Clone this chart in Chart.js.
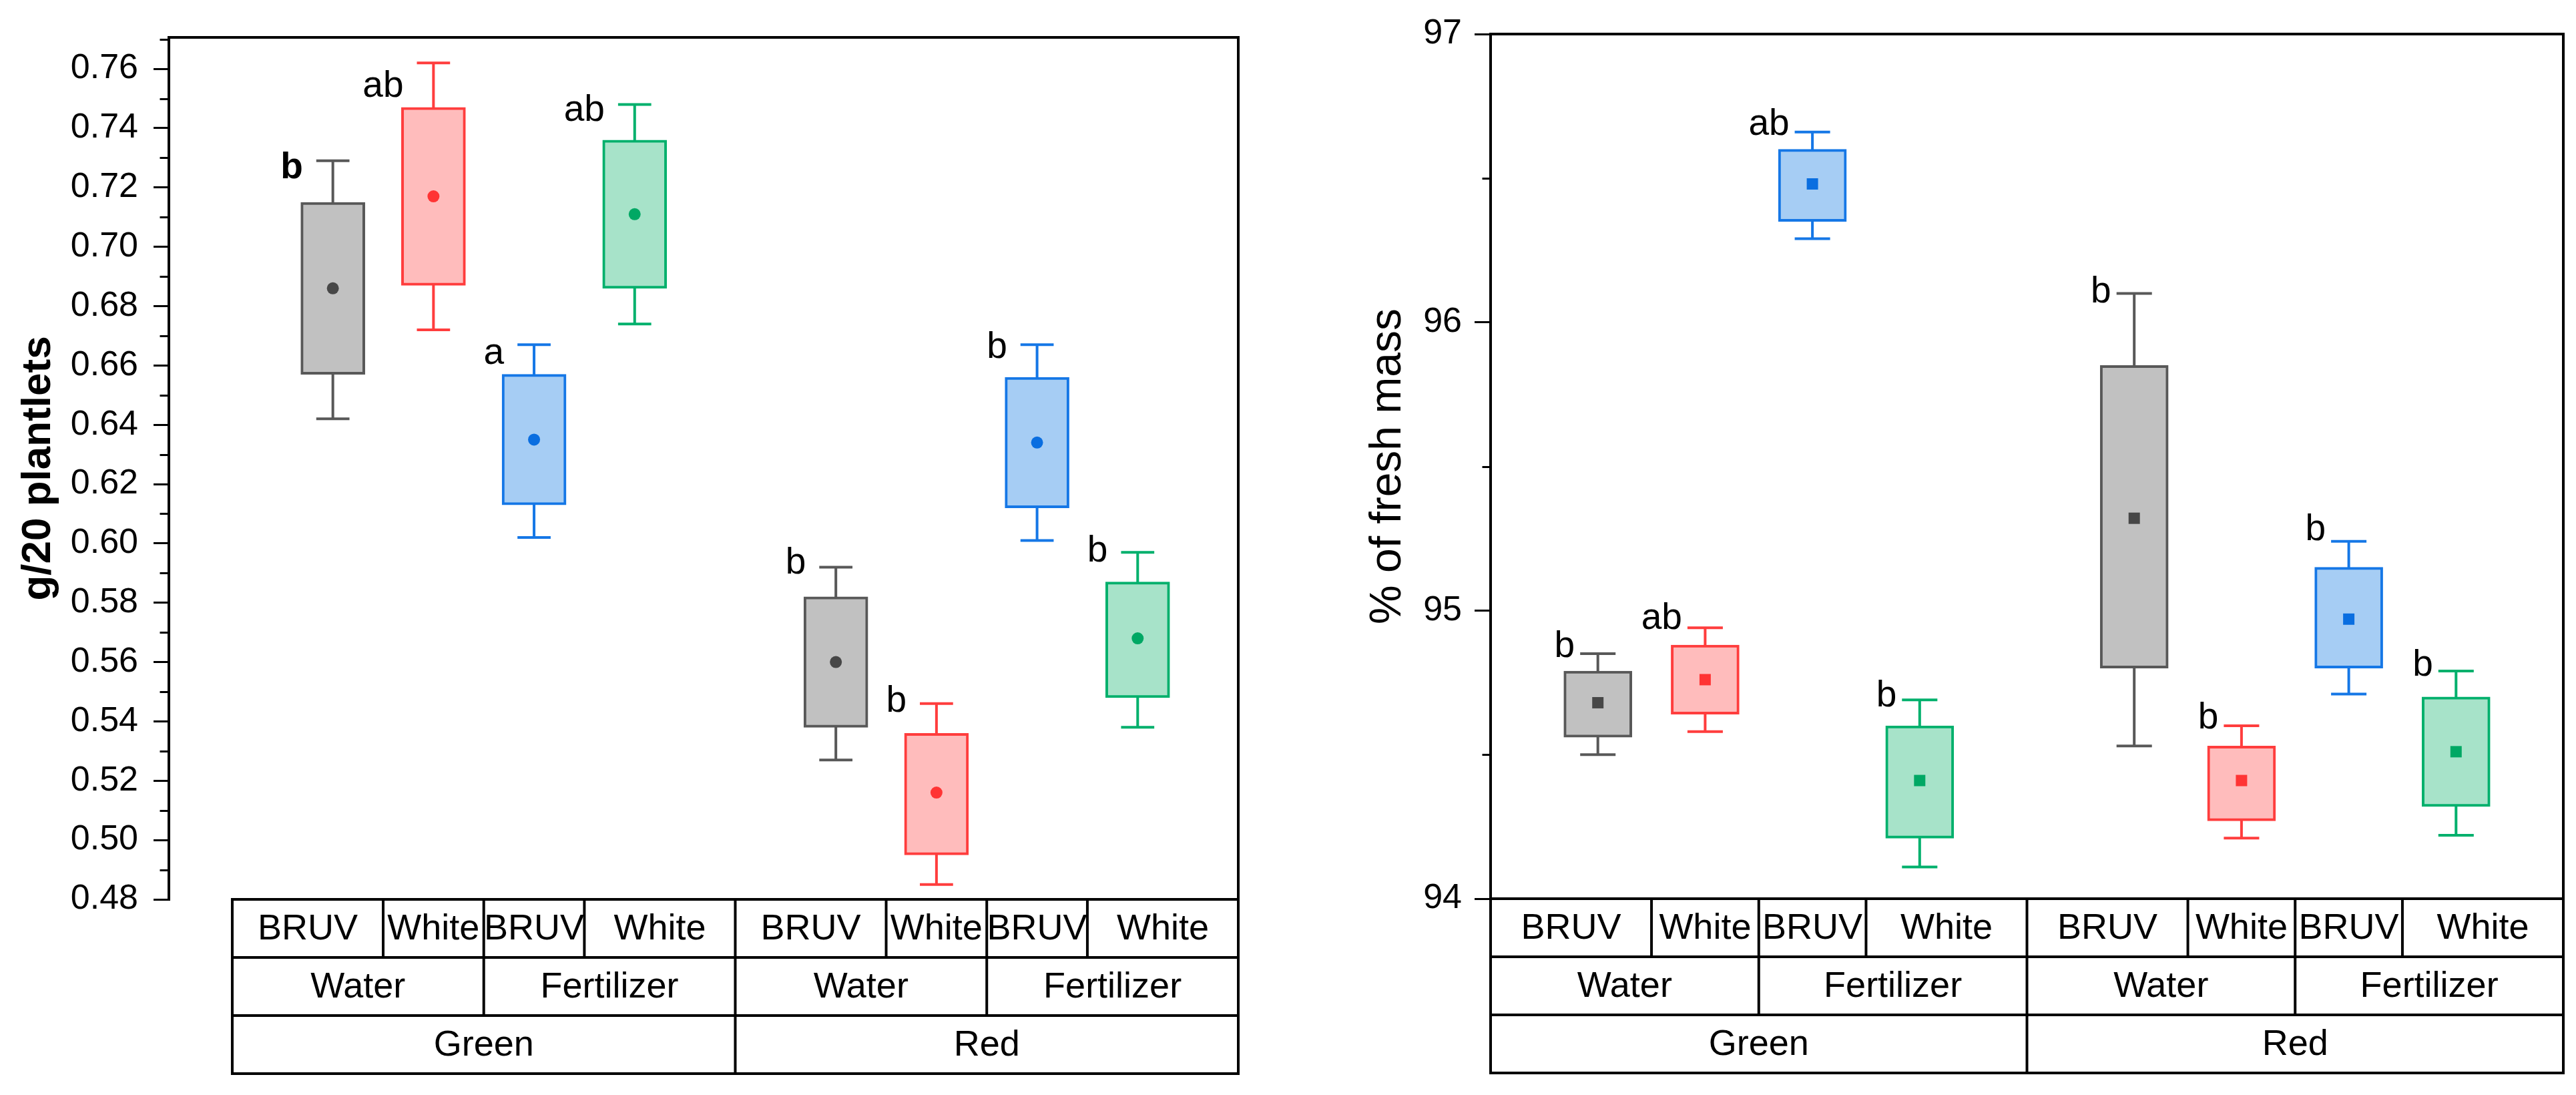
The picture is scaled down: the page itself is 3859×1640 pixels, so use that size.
<!DOCTYPE html>
<html>
<head>
<meta charset="utf-8">
<script src="https://cdn.jsdelivr.net/npm/chart.js@4.4.1/dist/chart.umd.min.js"></script>
<style>
    html, body { margin: 0; padding: 0; background: #fff; }
    body { width: 3859px; height: 1640px; position: relative; overflow: hidden; }
    canvas { position: absolute; top: 0; }
    #chart-mass { left: 0; }
    #chart-water { left: 1930px; }
</style>
</head>
<body>
<canvas id="chart-mass" width="1930" height="1640"></canvas>
<canvas id="chart-water" width="1929" height="1640"></canvas>
<script>
// categories (x positions leave a gap between Green and Red)
const positions = [0, 1, 2, 3, 5, 6, 7, 8];
const lights = ['BRUV', 'White', 'BRUV', 'White', 'BRUV', 'White', 'BRUV', 'White'];
const treatments = ['Water', 'Fertilizer', 'Water', 'Fertilizer'];
const spectra = ['Green', 'Red'];

// g/20 plantlets
const massMin  = [0.642, 0.672, 0.602, 0.674, 0.527, 0.485, 0.601, 0.538];
const massQ1   = [0.657, 0.687, 0.613, 0.686, 0.538, 0.495, 0.612, 0.548];
const massMean = [0.686, 0.717, 0.635, 0.711, 0.560, 0.516, 0.634, 0.568];
const massQ3   = [0.715, 0.747, 0.657, 0.736, 0.582, 0.536, 0.656, 0.587];
const massMax  = [0.729, 0.762, 0.667, 0.748, 0.592, 0.546, 0.667, 0.597];
const massLetters = ['b', 'ab', 'a', 'ab', 'b', 'b', 'b', 'b'];

// % of fresh mass
const waterMin  = [94.50, 94.58, 96.29, 94.11, 94.53, 94.21, 94.71, 94.22];
const waterQ1   = [94.56, 94.64, 96.35, 94.21, 94.80, 94.27, 94.80, 94.32];
const waterMean = [94.68, 94.76, 96.48, 94.41, 95.32, 94.41, 94.97, 94.51];
const waterQ3   = [94.79, 94.88, 96.60, 94.60, 95.85, 94.53, 95.15, 94.70];
const waterMax  = [94.85, 94.94, 96.66, 94.69, 96.10, 94.60, 95.24, 94.79];
const waterLetters = ['b', 'ab', 'ab', 'b', 'b', 'b', 'b', 'b'];

const FONT = '"Liberation Sans", Arial, sans-serif';
const strokes = ['#585858', '#ff3d3d', '#1577e6', '#00b06c'];
const fills   = ['#c1c1c1', '#ffbcbc', '#a6cdf4', '#a7e3c9'];
const dots    = ['#474747', '#ff3434', '#0a6ee0', '#00a864'];
const pick = arr => positions.map((p, i) => arr[i % 4]);

// column edges: halfway between boxes, one unit beyond the ends
function edges() {
    const e = [positions[0] - 1];
    for (let i = 1; i < positions.length; i++) e.push((positions[i - 1] + positions[i]) / 2);
    e.push(positions[positions.length - 1] + 1);
    return e;
}

const boxExtras = {
    id: 'boxExtras',
    beforeDatasetsDraw(chart, args, o) {
        const { ctx, scales: { x, y } } = chart;
        ctx.save();
        ctx.lineWidth = 4;
        positions.forEach((p, i) => {
            const cx = x.getPixelForValue(p);
            const half = x.getPixelForValue(p + o.cap) - cx;
            const top = y.getPixelForValue(o.max[i]);
            const bot = y.getPixelForValue(o.min[i]);
            ctx.strokeStyle = strokes[i % 4];
            ctx.beginPath();
            ctx.moveTo(cx, top); ctx.lineTo(cx, bot);
            ctx.moveTo(cx - half, top); ctx.lineTo(cx + half, top);
            ctx.moveTo(cx - half, bot); ctx.lineTo(cx + half, bot);
            ctx.stroke();
        });
        ctx.restore();
    },
    afterDatasetsDraw(chart, args, o) {
        const { ctx, scales: { x, y } } = chart;
        ctx.save();
        ctx.fillStyle = '#000';
        ctx.textAlign = 'right';
        ctx.textBaseline = 'alphabetic';
        positions.forEach((p, i) => {
            const capLeft = x.getPixelForValue(p - o.cap);
            const top = y.getPixelForValue(o.max[i]);
            ctx.font = (o.bold[i] ? 'bold ' : '') + o.letterSize + 'px ' + FONT;
            ctx.fillText(o.letters[i], capLeft - o.gap, top + o.dy[i]);
        });
        ctx.restore();
    },
    afterDraw(chart, args, o) {
        const { ctx, chartArea: a, scales: { x, y } } = chart;
        ctx.save();
        ctx.strokeStyle = '#000';
        ctx.lineCap = 'square';

        // minor ticks
        ctx.lineWidth = 3;
        ctx.beginPath();
        for (let v = o.minorFrom; v < y.max; v += o.minorStep) {
            const py = Math.round(y.getPixelForValue(v)) + 0.5;
            ctx.moveTo(a.left - o.minorLen, py); ctx.lineTo(a.left, py);
        }
        ctx.stroke();

        const e = edges();
        const px = v => x.getPixelForValue(v);
        const rowH = 87;
        const rows = [a.bottom, a.bottom + rowH, a.bottom + 2 * rowH, a.bottom + 3 * rowH];

        // frame
        ctx.lineWidth = 4;
        ctx.beginPath();
        ctx.moveTo(a.left, a.top); ctx.lineTo(a.right, a.top);
        ctx.lineTo(a.right, rows[3]);
        ctx.stroke();

        // table grid
        ctx.beginPath();
        rows.forEach(ry => { ctx.moveTo(px(e[0]), ry); ctx.lineTo(px(e[8]), ry); });
        const rowEdges = [
            e,
            [e[0], e[2], e[4], e[6], e[8]],
            [e[0], e[4], e[8]]
        ];
        rowEdges.forEach((list, r) => {
            list.forEach(v => { ctx.moveTo(px(v), rows[r]); ctx.lineTo(px(v), rows[r + 1]); });
        });
        ctx.stroke();

        // table text
        ctx.fillStyle = '#000';
        ctx.font = '54px ' + FONT;
        ctx.textAlign = 'center';
        ctx.textBaseline = 'middle';
        const texts = [lights, treatments, spectra];
        texts.forEach((list, r) => {
            const ed = rowEdges[r];
            list.forEach((t, k) => {
                const cx = (px(ed[k]) + px(ed[k + 1])) / 2;
                ctx.fillText(t, cx, (rows[r] + rows[r + 1]) / 2 + 2);
            });
        });
        ctx.restore();
    }
};

function makeChart(id, c) {
    return new Chart(document.getElementById(id), {
        type: 'bar',
        data: {
            datasets: [{
                type: 'bar',
                data: positions.map((p, i) => ({ x: p, y: [c.q1[i], c.q3[i]] })),
                backgroundColor: pick(fills),
                borderColor: pick(strokes),
                borderWidth: 4,
                borderSkipped: false,
                barThickness: c.barPx,
                order: 2
            }, {
                type: 'scatter',
                data: positions.map((p, i) => ({ x: p, y: c.mean[i] })),
                pointStyle: c.marker,
                pointRadius: c.markerR,
                pointBackgroundColor: pick(dots),
                pointBorderWidth: 0,
                order: 1
            }]
        },
        options: {
            responsive: false,
            animation: false,
            events: [],
            layout: { padding: { left: 0, right: c.padRight, top: c.padTop, bottom: c.padBottom } },
            plugins: {
                legend: { display: false },
                tooltip: { enabled: false },
                boxExtras: {
                    min: c.min, max: c.max, cap: 0.165, letters: c.letters, bold: c.bold,
                    dy: c.letterDy, gap: c.letterGap, letterSize: 55,
                    minorFrom: c.minorFrom, minorStep: c.minorStep, minorLen: c.minorLen
                }
            },
            scales: {
                x: { type: 'linear', display: false, min: c.xMin, max: 9, offset: false },
                y: {
                    min: c.yMin, max: c.yMax,
                    ticks: {
                        stepSize: c.step, includeBounds: false, color: '#000', padding: c.tickPad,
                        font: { family: FONT, size: 52 },
                        callback: v => v.toFixed(c.decimals)
                    },
                    grid: { drawOnChartArea: false, drawTicks: true, tickLength: c.tickLen, lineWidth: 3, tickWidth: 3, tickColor: '#000' },
                    border: { display: true, color: '#000', width: 4 },
                    title: {
                        display: true, text: c.title, color: '#000',
                        font: { family: FONT, size: c.titleSize, weight: c.titleWeight },
                        padding: { top: c.titlePad, bottom: 0 }
                    },
                    afterFit(s) { s.width = c.axisW; }
                }
            }
        },
        plugins: [boxExtras]
    });
}

makeChart('chart-mass', {
    q1: massQ1, q3: massQ3, mean: massMean, min: massMin, max: massMax,
    letters: massLetters, bold: [true, false, false, false, false, false, false, false],
    letterDy: [26, 51, 29, 25, 10, 12, 20, 14], letterGap: 20,
    marker: 'circle', markerR: 9, barPx: 96,
    xMin: -1.63, yMin: 0.48, yMax: 0.7706, step: 0.02, decimals: 2,
    minorFrom: 0.49, minorStep: 0.02, minorLen: 12, tickLen: 23, tickPad: 23,
    title: 'g/20 plantlets', titleSize: 62, titleWeight: 'bold', titlePad: 21,
    axisW: 253, padRight: 75, padTop: 56, padBottom: 293
});

makeChart('chart-water', {
    q1: waterQ1, q3: waterQ3, mean: waterMean, min: waterMin, max: waterMax,
    letters: waterLetters, bold: [false, false, false, false, false, false, false, false],
    letterDy: [5, 2, 4, 10, 13, 4, -2, 7], letterGap: 8,
    marker: 'rect', markerR: 12, barPx: 102,
    xMin: -1, yMin: 94, yMax: 97, step: 1, decimals: 0,
    minorFrom: 94.5, minorStep: 1, minorLen: 11, tickLen: 24, tickPad: 19,
    title: '% of fresh mass', titleSize: 66, titleWeight: 'normal', titlePad: 110,
    axisW: 303, padRight: 19, padTop: 51, padBottom: 294
});
</script>
</body>
</html>
